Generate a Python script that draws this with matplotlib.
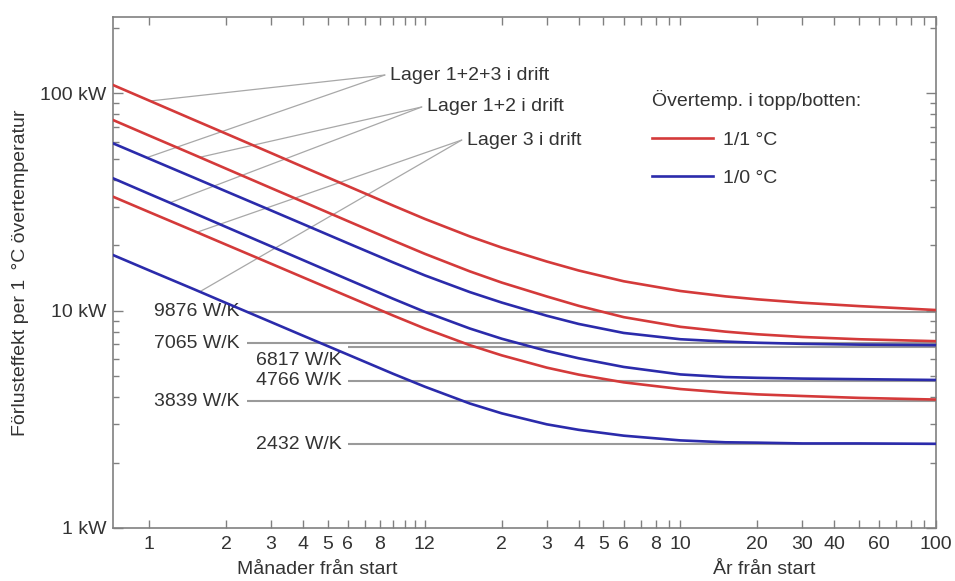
import numpy as np
import matplotlib
matplotlib.use("Agg")
import matplotlib.pyplot as plt
from matplotlib.lines import Line2D
from matplotlib.ticker import FixedLocator, NullFormatter
import matplotlib.transforms as mtransforms

plt.rcParams['font.family'] = ['Liberation Sans', 'DejaVu Sans']
plt.rcParams['font.size'] = 14

# Time since start, in months
months = [0.723, 1, 1.5, 2, 3, 4, 6, 9, 12, 18, 24, 36, 48, 72, 120, 180, 240, 360, 600, 1200]

# Heat loss per 1 °C excess temperature (kW)
# 1/1 °C top/bottom excess temperature
red_123 = [109.3, 92.75, 75.5, 65.31, 53.2, 45.95, 37.45, 30.5, 26.45, 21.97,
           19.52, 16.84, 15.31, 13.66, 12.32, 11.64, 11.28, 10.88, 10.50, 10.07]
red_12 = [75.43, 64.0, 52.18, 45.08, 36.70, 31.74, 25.84, 21.06, 18.27, 15.17,
          13.47, 11.63, 10.53, 9.34, 8.43, 8.01, 7.79, 7.57, 7.39, 7.24]
red_3 = [33.47, 28.46, 23.27, 20.15, 16.46, 14.25, 11.64, 9.51, 8.28, 6.94,
         6.23, 5.47, 5.08, 4.68, 4.36, 4.20, 4.12, 4.05, 3.97, 3.90]
# 1/0 °C top/bottom excess temperature
blue_123 = [58.92, 50.11, 40.94, 35.44, 28.95, 25.06, 20.44, 16.70, 14.54, 12.18,
            10.90, 9.48, 8.69, 7.90, 7.39, 7.21, 7.12, 7.04, 6.98, 6.94]
blue_12 = [40.68, 34.51, 28.13, 24.30, 19.79, 17.11, 13.93, 11.36, 9.88, 8.28,
           7.43, 6.53, 6.04, 5.51, 5.09, 4.95, 4.91, 4.87, 4.84, 4.80]
blue_3 = [18.04, 15.34, 12.55, 10.86, 8.87, 7.68, 6.28, 5.13, 4.47, 3.74,
          3.37, 3.00, 2.83, 2.66, 2.53, 2.48, 2.47, 2.45, 2.45, 2.44]

# Steady-state loss coefficients (W/K)
steady_wk = [9876, 7065, 6817, 4766, 3839, 2432]

# Layer groups
groups = ["Lager 1+2+3 i drift", "Lager 1+2 i drift", "Lager 3 i drift"]

# Bottom axis ticks (months) and labels
xtick_months = [1, 2, 3, 4, 5, 6, 7, 8, 9, 10, 11, 12,
                24, 36, 48, 60, 72, 84, 96, 108, 120,
                240, 360, 480, 600, 720, 840, 960, 1080, 1200]
xtick_labels = ['1', '2', '3', '4', '5', '6', '', '8', '', '', '', '12',
                '2', '3', '4', '5', '6', '', '8', '', '10',
                '20', '30', '40', '', '60', '', '', '', '100']

RED = '#d43a3a'
BLUE = '#2b2bab'
GREY = '#9a9a9a'
LEAD = '#a8a8a8'
TXT = '#333333'
SPINE = '#808080'

fig = plt.figure(figsize=(9.55, 5.81), dpi=100)
ax = fig.add_axes([113 / 955, 1 - 528 / 581, 823 / 955, 511 / 581])

ax.set_xscale('log')
ax.set_yscale('log')
ax.set_xlim(0.723, 1200)
ax.set_ylim(1, 224.7)

# Steady-state reference lines with their labels: (label x, line start, label y offset)
label_pos = {
    9876: (2.27, 2.416, 0),
    7065: (2.27, 2.416, 0),
    6817: (5.68, 6.0, -9.5),
    4766: (5.68, 6.0, 0),
    3839: (2.27, 2.416, 0),
    2432: (5.68, 6.0, 0),
}
for wk in steady_wk:
    tx, x0, dy = label_pos[wk]
    y = wk / 1000.0
    ax.hlines(y, x0, 1200, color=GREY, lw=1.5, zorder=1)
    ax.annotate(f"{wk} W/K", xy=(tx, y), xytext=(0, dy), textcoords='offset points',
                ha='right', va='center', color=TXT, fontsize=14)

curves = [(red_123, RED), (red_12, RED), (blue_123, BLUE), (blue_12, BLUE), (red_3, RED), (blue_3, BLUE)]
for vals, col in curves:
    ax.plot(months, vals, color=col, lw=1.9, zorder=3, solid_joinstyle='round')


def on_curve(vals, t):
    return float(np.exp(np.interp(np.log(t), np.log(months), np.log(vals))))


# Leader lines from each group label to its two curves
leaders = [
    (groups[0], (8.37, 121.5), [(red_123, 1.01), (blue_123, 0.98)]),
    (groups[1], (11.67, 86.6), [(red_12, 1.58), (blue_12, 1.208)]),
    (groups[2], (16.73, 61.0), [(red_3, 1.54), (blue_3, 1.58)]),
]
for text, (cx, cy), targets in leaders:
    for vals, t in targets:
        ax.annotate('', xy=(t, on_curve(vals, t)), xytext=(cx, cy),
                    arrowprops=dict(arrowstyle='-', color=LEAD, lw=0.9,
                                    shrinkA=0, shrinkB=0), zorder=2)
    ax.annotate(text, xy=(cx, cy), xytext=(4, 0), textcoords='offset points',
                ha='left', va='center', color=TXT, fontsize=14)

# Legend
handles = [Line2D([], [], color=RED, lw=1.9), Line2D([], [], color=BLUE, lw=1.9)]
leg = ax.legend(handles, ['1/1 °C', '1/0 °C'], title='Övertemp. i topp/botten:',
                loc='upper left', bbox_to_anchor=(0.655, 0.857), frameon=False,
                handlelength=3.15, handletextpad=0.5, labelspacing=1.08,
                borderpad=0, borderaxespad=0, alignment='left',
                fontsize=14, title_fontsize=14, labelcolor=TXT)
leg.get_title().set_color(TXT)

# Axes styling
for s in ax.spines.values():
    s.set_color(SPINE)
    s.set_linewidth(1.2)

ax.set_xticks(xtick_months)
ax.set_xticklabels(xtick_labels)
ax.xaxis.set_minor_locator(FixedLocator([]))
ax.tick_params(axis='x', which='major', direction='in', top=True, bottom=True,
               length=6, width=1, color=SPINE, labelcolor=TXT, labelsize=14, pad=6)

ax.set_yticks([1, 10, 100])
ax.set_yticklabels(['1 kW', '10 kW', '100 kW'])
ax.tick_params(axis='y', which='major', direction='in', left=True, right=True,
               length=7, width=1, color=SPINE, labelcolor=TXT, labelsize=14, pad=5)
ax.tick_params(axis='y', which='minor', direction='in', left=True, right=True,
               length=4, width=1, color=SPINE)
ax.yaxis.set_minor_formatter(NullFormatter())

ax.set_ylabel('Förlusteffekt per 1 \u2009°C övertemperatur', color=TXT, fontsize=14, labelpad=8)

# Axis captions for the months and years portions
trans = mtransforms.blended_transform_factory(ax.transData, ax.transAxes)
ax.text(4.54, -0.082, 'Månader från start', transform=trans, ha='center', va='center',
        color=TXT, fontsize=14)
ax.text(256, -0.082, 'År från start', transform=trans, ha='center', va='center',
        color=TXT, fontsize=14)

fig.savefig('out.png', dpi=100, facecolor='white')
